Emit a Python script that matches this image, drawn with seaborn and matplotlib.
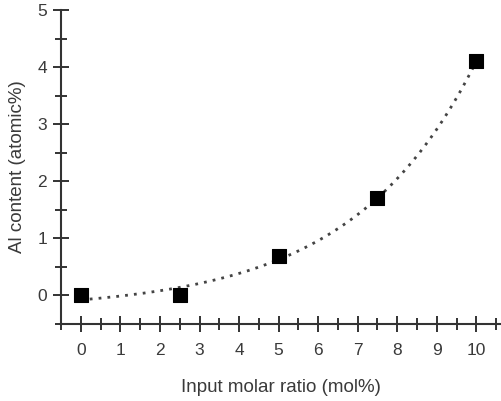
import matplotlib
matplotlib.use("Agg")
import matplotlib.pyplot as plt
import seaborn as sns
import numpy as np
import pandas as pd
from matplotlib.ticker import MultipleLocator

# data
ratio = [0, 2.5, 5, 7.5, 10]
al_content = [0.0, 0.0, 0.7, 1.7, 4.1]

df = pd.DataFrame({"ratio": ratio, "al": al_content})

# exponential trend y = a*exp(b*x) + c fitted to the points
x = np.array(ratio)
y = np.array(al_content)
best = None
for b in np.linspace(0.05, 0.6, 551):
    A = np.column_stack([np.exp(b * x), np.ones_like(x)])
    coef, res, *_ = np.linalg.lstsq(A, y, rcond=None)
    err = np.sum((A @ coef - y) ** 2)
    if best is None or err < best[0]:
        best = (err, b, coef)
_, b, (a, c) = best
xf = np.linspace(0, 10, 200)
fit = pd.DataFrame({"ratio": xf, "al": a * np.exp(b * xf) + c})

sns.set_style("ticks")
plt.rcParams['font.family'] = ['Liberation Sans', 'DejaVu Sans']

fig = plt.figure(figsize=(5.01, 4.01), dpi=100)
ax = fig.add_axes([0.122, 0.192, 0.876, 0.783])

sns.lineplot(data=fit, x="ratio", y="al", ax=ax, color="#444444",
             ls=(0, (1, 2.2)), lw=2)
sns.scatterplot(data=df, x="ratio", y="al", marker="s", s=95, color="black",
                edgecolor="black", ax=ax, zorder=5)

ax.set_xlim(-0.5, 10.6)
ax.set_ylim(-0.5, 5.0)
ax.xaxis.set_minor_locator(MultipleLocator(0.5))
ax.yaxis.set_minor_locator(MultipleLocator(0.5))
ax.set_xticks(range(0, 11))
ax.set_yticks(range(0, 6))

for s in ["top", "right"]:
    ax.spines[s].set_visible(False)
for s in ["left", "bottom"]:
    ax.spines[s].set_linewidth(1.5)
    ax.spines[s].set_color("#333333")

ax.tick_params(which="major", direction="inout", length=12, width=1.4,
               color="#333333", labelsize=12.5, labelcolor="#3a3a3a")
ax.tick_params(axis="x", which="major", pad=8)
ax.tick_params(axis="y", which="major", pad=4)
ax.tick_params(which="minor", direction="inout", length=8, width=1.4, color="#333333")

ax.set_xlabel("Input molar ratio (mol%)", fontsize=13.5, color="#3a3a3a", labelpad=15)
ax.set_ylabel("Al content (atomic%)", fontsize=13.5, color="#3a3a3a", labelpad=8)

fig.savefig("out.png", dpi=100)
